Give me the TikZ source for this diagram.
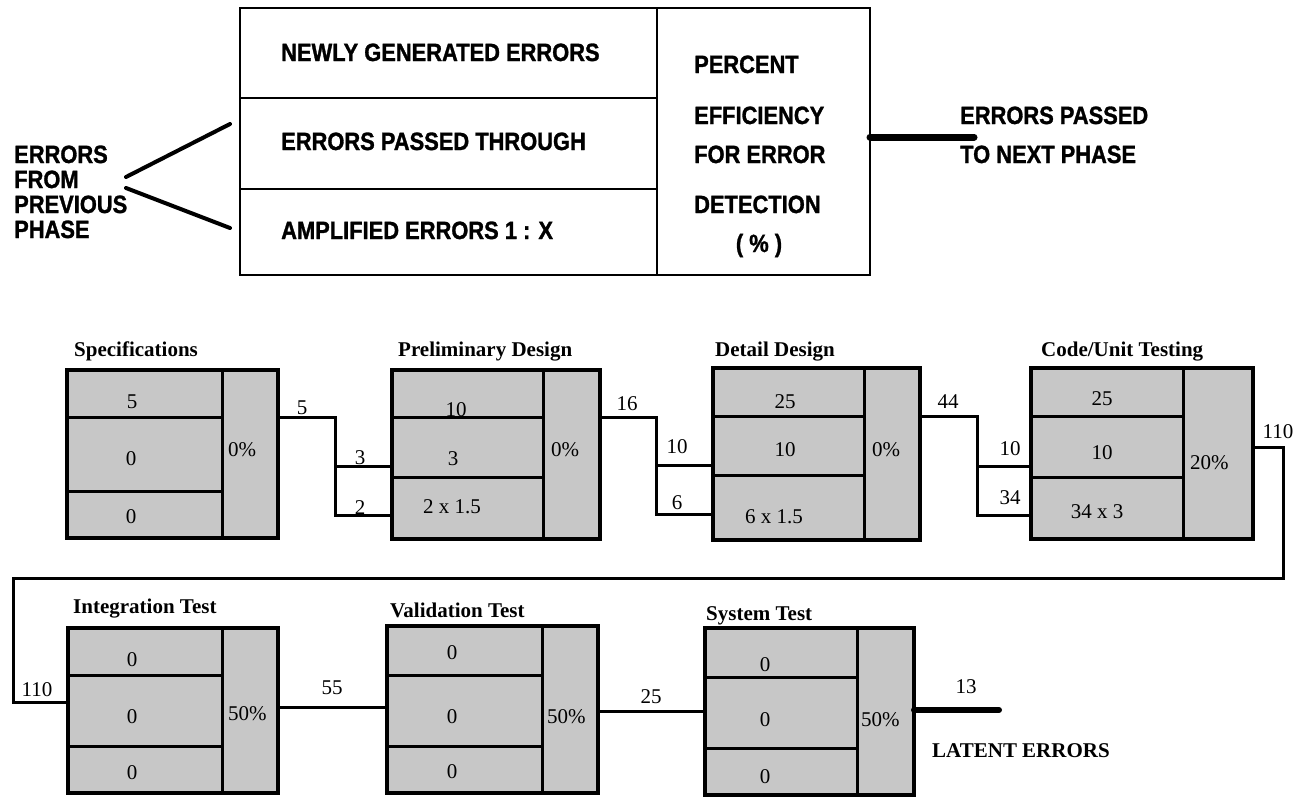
\documentclass[tikz,border=0pt]{standalone}
\usepackage{fontspec}
\setmainfont{Liberation Serif}
\newfontfamily\hdr[FakeStretch=0.875, FakeBold=1.2]{Liberation Sans}
\usetikzlibrary{fit}
\definecolor{cellgray}{gray}{0.78}
\tikzset{
  cell/.style={draw, line width=3pt, fill=cellgray, inner sep=0pt, outer sep=0pt},
  blkout/.style={draw, line width=4pt},
  conn/.style={line width=3pt},
  lgd/.style={draw, line width=2.5pt, inner sep=0pt, outer sep=0pt},
  hd/.style={font=\hdr\bfseries\fontsize{25}{30}\selectfont, anchor=base west, inner sep=0pt},
  num/.style={font=\fontsize{21}{25}\selectfont, inner sep=0pt},
  pct/.style={font=\fontsize{21}{25}\selectfont, inner sep=0pt, anchor=west},
  ttl/.style={font=\bfseries\fontsize{21}{25}\selectfont, anchor=base west, inner sep=0pt},
}
% name, x0, xi, x2, ytop, d1, d2, ybot
\newcommand\phaseblock[8]{%
  \node[cell, fit={(#2,#5) (#3,#6)}] (#1a) {};
  \node[cell, fit={(#2,#6) (#3,#7)}] (#1b) {};
  \node[cell, fit={(#2,#7) (#3,#8)}] (#1c) {};
  \node[cell, fit={(#3,#5) (#4,#8)}] (#1p) {};
  \draw[blkout] (#2,#5) rectangle (#4,#8);
}
\begin{document}
\begin{tikzpicture}[x=1pt,y=-1pt]
\useasboundingbox (0,0) rectangle (1295,796);

% ---------- legend ----------
\node[lgd, fit={(240,8) (657,98)}] (lg1) {};
\node[lgd, fit={(240,98) (657,189)}] (lg2) {};
\node[lgd, fit={(240,189) (657,275)}] (lg3) {};
\node[lgd, fit={(657,8) (870,275)}] (lgp) {};
\node[hd] (lgt1) at (281,61) {NEWLY GENERATED ERRORS};
\node[hd] (lgt2) at (281,150) {ERRORS PASSED THROUGH};
\node[hd] (lgt3) at (281,239) {AMPLIFIED ERRORS 1 : X};
\node[hd] (lgp1) at (694,73) {PERCENT};
\node[hd] (lgp2) at (694,124) {EFFICIENCY};
\node[hd] (lgp3) at (694,163) {FOR ERROR};
\node[hd] (lgp4) at (694,213) {DETECTION};
\node[hd, anchor=base] (lgp5) at (759,252) {( \% )};
\node[hd] (prev1) at (14,163) {ERRORS};
\node[hd] (prev2) at (14,188) {FROM};
\node[hd] (prev3) at (14,213) {PREVIOUS};
\node[hd] (prev4) at (14,238) {PHASE};
\coordinate (forkA) at (126,177);
\coordinate (forkB) at (126,188);
\coordinate (endA) at (230,124);
\coordinate (endB) at (230,228);
\draw[line width=4pt, line cap=round] (forkA) -- (endA);
\draw[line width=4pt, line cap=round] (forkB) -- (endB);
\node[hd] (nxt1) at (960,124) {ERRORS PASSED};
\node[hd] (nxt2) at (960,163) {TO NEXT PHASE};
\coordinate (nxtend) at (974,137);
\draw[line width=7pt, line cap=round] (lgp.east |- nxtend) -- (nxtend);

% ---------- row 1 ----------
\phaseblock{sp}{67}{222}{278}{370}{417}{491}{538}
\phaseblock{pd}{392}{543}{600}{370}{417}{477}{539}
\phaseblock{dd}{713}{864}{920}{368}{416}{475}{540}
\phaseblock{cu}{1031}{1183}{1253}{368}{416}{477}{539}

\node[ttl] (spT) at (74,356) {Specifications};
\node[ttl] (pdT) at (398,356) {Preliminary Design};
\node[ttl] (ddT) at (715,356) {Detail Design};
\node[ttl] (cuT) at (1041,356) {Code/Unit Testing};

\node[num] (sp1) at (132,402) {5};
\node[num] (sp2) at (131,459) {0};
\node[num] (sp3) at (131,517) {0};
\node[pct] (sp4) at (228,450) {0\%};

\node[num] (pd1) at (456,410) {10};
\node[num] (pd2) at (453,459) {3};
\node[num] (pd3) at (452,507) {2 x 1.5};
\node[pct] (pd4) at (551,450) {0\%};

\node[num] (dd1) at (785,402) {25};
\node[num] (dd2) at (785,450) {10};
\node[num] (dd3) at (774,517) {6 x 1.5};
\node[pct] (dd4) at (872,450) {0\%};

\node[num] (cu1) at (1102,399) {25};
\node[num] (cu2) at (1102,453) {10};
\node[num] (cu3) at (1097,512) {34 x 3};
\node[pct] (cu4) at (1190,463) {20\%};

% connectors row 1
\coordinate (j1a) at (335,466);
\coordinate (j1b) at (335,515);
\draw[conn] (spp.east |- spa.south) -| (j1b) -- (pdc.west |- j1b);
\draw[conn] (j1a) -- (pdb.west |- j1a);
\node[num] (c1) at (302,408) {5};
\node[num] (c2) at (360,458) {3};
\node[num] (c3) at (360,508) {2};

\coordinate (j2a) at (656,465);
\coordinate (j2b) at (656,514);
\draw[conn] (pdp.east |- pda.south) -| (j2b) -- (ddc.west |- j2b);
\draw[conn] (j2a) -- (ddb.west |- j2a);
\node[num] (c4) at (627,404) {16};
\node[num] (c5) at (677,447) {10};
\node[num] (c6) at (677,503) {6};

\coordinate (j3a) at (977,466);
\coordinate (j3b) at (977,515);
\draw[conn] (ddp.east |- dda.south) -| (j3b) -- (cuc.west |- j3b);
\draw[conn] (j3a) -- (cub.west |- j3a);
\node[num] (c7) at (948,402) {44};
\node[num] (c8) at (1010,449) {10};
\node[num] (c9) at (1010,498) {34};

% ---------- row 2 ----------
\phaseblock{it}{68}{222}{278}{628}{675}{746}{793}
\phaseblock{vt}{387}{542}{598}{626}{675}{746}{793}
\phaseblock{st}{705}{857}{914}{628}{677}{748}{795}

\node[ttl] (itT) at (73,613) {Integration Test};
\node[ttl] (vtT) at (390,617) {Validation Test};
\node[ttl] (stT) at (706,620) {System Test};

\node[num] (it1) at (132,660) {0};
\node[num] (it2) at (132,717) {0};
\node[num] (it3) at (132,773) {0};
\node[pct] (it4) at (228,714) {50\%};

\node[num] (vt1) at (452,653) {0};
\node[num] (vt2) at (452,717) {0};
\node[num] (vt3) at (452,772) {0};
\node[pct] (vt4) at (547,717) {50\%};

\node[num] (st1) at (765,665) {0};
\node[num] (st2) at (765,720) {0};
\node[num] (st3) at (765,777) {0};
\node[pct] (st4) at (861,720) {50\%};

% long return connector
\coordinate (r1) at (1283,447);
\coordinate (r2) at (1283,578);
\coordinate (r3) at (13,578);
\coordinate (r4) at (13,702);
\draw[conn] (cup.east |- r1) -- (r1) -- (r2) -- (r3) -- (r4) -- (itb.west |- r4);
\node[num] (c10) at (1278,432) {110};
\node[num] (c11) at (37,690) {110};

\coordinate (k1) at (278,707);
\draw[conn] (itp.east |- k1) -- (vtb.west |- k1);
\node[num] (c12) at (332,688) {55};
\coordinate (k2) at (598,711);
\draw[conn] (vtp.east |- k2) -- (stb.west |- k2);
\node[num] (c13) at (651,697) {25};
\coordinate (latent) at (999,710);
\draw[line width=6pt, line cap=round] (stp.east |- latent) -- (latent);
\node[num] (c14) at (966,687) {13};
\node[ttl] (lat) at (932,757) {LATENT ERRORS};
\end{tikzpicture}
\end{document}
